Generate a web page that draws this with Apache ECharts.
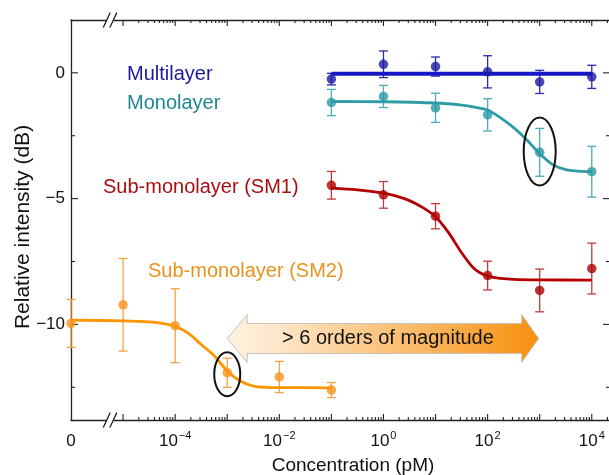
<!DOCTYPE html>
<html><head><meta charset="utf-8">
<script src="https://cdn.jsdelivr.net/npm/echarts@6/dist/echarts.min.js"></script>
<style>html,body{margin:0;padding:0;background:#fff}#c{width:609px;height:475px}</style>
</head><body><div id="c"></div>
<script>
// ---- data (x = log10 of concentration in pM; the "0" concentration is drawn at -6) ----
const xTickLabelValues = [-6, -4, -2, 0, 2, 4];
const xTickLabelTexts = ['0', '10^-4', '10^-2', '10^0', '10^2', '10^4'];
const yTickLabelValues = [0, -5, -10];
const yTickLabelTexts = ['0', '\u22125', '\u221210'];

const sm2X = [-6, -5, -4, -3, -2, -1];
const sm2Mean = [-9.96, -9.22, -10.05, -11.92, -12.09, -12.61];
const sm2Err = [0.95, 1.84, 1.47, 0.58, 0.62, 0.30];

const upperX = [-1, 0, 1, 2, 3, 4];
const multiMean = [-0.25, 0.34, 0.25, 0.04, -0.36, -0.16];
const multiErr = [0.23, 0.53, 0.38, 0.64, 0.46, 0.46];
const monoMean = [-1.18, -0.94, -1.39, -1.67, -3.16, -3.93];
const monoErr = [0.52, 0.44, 0.58, 0.64, 0.95, 1.01];
const sm1Mean = [-4.47, -4.85, -5.70, -8.06, -8.65, -7.78];
const sm1Err = [0.55, 0.53, 0.50, 0.57, 0.85, 1.01];

// fitted curves
const multiFitX = [-1, 4];
const multiFitY = [-0.04, -0.04];
const monoFitX = [-1, 0, 1, 1.5, 1.75, 2, 2.25, 2.5, 2.75, 3, 3.25, 3.5, 3.75, 4];
const monoFitY = [-1.14, -1.15, -1.2, -1.28, -1.36, -1.48, -1.79, -2.18, -2.66, -3.22, -3.65, -3.85, -3.91, -3.93];
const sm1FitX = [-1, -0.5, 0, 0.25, 0.5, 0.75, 1, 1.25, 1.5, 1.75, 2, 2.25, 2.5, 3, 4];
const sm1FitY = [-4.58, -4.65, -4.78, -4.9, -5.08, -5.35, -5.72, -6.35, -7.15, -7.8, -8.08, -8.17, -8.21, -8.23, -8.24];
const sm2FitX = [-6, -5, -4.5, -4.25, -4, -3.75, -3.5, -3.25, -3, -2.75, -2.5, -2.25, -2, -1];
const sm2FitY = [-9.83, -9.86, -9.9, -9.96, -10.08, -10.35, -10.8, -11.25, -11.85, -12.25, -12.45, -12.5, -12.51, -12.52];

const seriesNames = ['Multilayer', 'Monolayer', 'Sub-monolayer (SM1)', 'Sub-monolayer (SM2)'];
const xAxisTitle = 'Concentration (pM)';
const yAxisTitle = 'Relative intensity (dB)';
const arrowText = '> 6 orders of magnitude';

// ---- config ----
const X_MIN = -6, X_MAX = 4.35, Y_MIN = -13.8, Y_MAX = 2.1;
const colors = {
  multi: {pt: '#1a1aa6', line: '#1717c8', err: '#2b2bb0', text: '#1a1a9e'},
  mono: {pt: '#2a9aa5', line: '#2f9ba7', err: '#4aabb5', text: '#1f8790'},
  sm1: {pt: '#b00000', line: '#b30000', err: '#c23a3a', text: '#a80f0f'},
  sm2: {pt: '#f7941d', line: '#ff9500', err: '#f3a446', text: '#e8921e'}
};
// tick positions (axis decorations)
const tickItems = [];
for (let n = -5; n <= 4; n++) {
  tickItems.push([n, 0, 0]);
  for (let k = 2; k <= 9; k++) {
    const v = n + Math.log10(k);
    if (v <= X_MAX) tickItems.push([v, 0, 1]);
  }
}
[0, -5, -10].forEach(v => tickItems.push([0, v, 2]));
[-2.5, -7.5, -12.5].forEach(v => tickItems.push([0, v, 3]));

const zip = (a, b) => a.map((v, i) => [v, b[i]]);
const zip3 = (a, b, c) => a.map((v, i) => [v, b[i], c[i]]);

function errSeries(x, m, e, color) {
  return {
    type: 'custom', xAxisIndex: 0, yAxisIndex: 0, z: 3, clip: false,
    data: zip3(x, m, e),
    renderItem: function (params, api) {
      const xv = api.value(0), yv = api.value(1), ev = api.value(2);
      const t = api.coord([xv, yv + ev]), b = api.coord([xv, yv - ev]);
      const w = 4.5, st = {stroke: color, lineWidth: 1.3};
      return {type: 'group', children: [
        {type: 'line', shape: {x1: t[0], y1: t[1], x2: b[0], y2: b[1]}, style: st},
        {type: 'line', shape: {x1: t[0] - w, y1: t[1], x2: t[0] + w, y2: t[1]}, style: st},
        {type: 'line', shape: {x1: b[0] - w, y1: b[1], x2: b[0] + w, y2: b[1]}, style: st}
      ]};
    }
  };
}
function ptSeries(x, m, color) {
  return {type: 'scatter', xAxisIndex: 0, yAxisIndex: 0, z: 5, symbol: 'circle', symbolSize: 9.5,
    itemStyle: {color: color}, data: zip(x, m)};
}
function fitSeries(x, y, color, w) {
  return {type: 'line', xAxisIndex: 0, yAxisIndex: 0, z: 4, showSymbol: false, smooth: 0.3,
    lineStyle: {color: color, width: w}, data: zip(x, y)};
}

const axisColor = '#222';
const fontFam = '"Liberation Sans", Arial, sans-serif';
function xAx(pos, labels) {
  return {
    type: 'value', position: pos, min: X_MIN, max: X_MAX,
    axisLine: {show: true, onZero: false, lineStyle: {color: axisColor, width: 1.3}},
    axisTick: {show: false}, splitLine: {show: false},
    axisLabel: labels ? {
      show: true, customValues: xTickLabelValues, margin: 10, fontFamily: fontFam, fontSize: 17, color: '#111',
      formatter: function (v) {
        const i = xTickLabelValues.findIndex(t => Math.abs(t - v) < 1e-6);
        const s = i >= 0 ? xTickLabelTexts[i] : '';
        if (s.indexOf('^') < 0) return '{b|' + s + '}';
        const p = s.split('^');
        return '{b|' + p[0] + '}{s|' + p[1].replace('-', '\u2212') + '}';
      },
      rich: {b: {fontSize: 17, fontFamily: fontFam, color: '#111', verticalAlign: 'bottom', lineHeight: 20},
             s: {fontSize: 11, fontFamily: fontFam, color: '#111', verticalAlign: 'top', lineHeight: 20, padding: [0, 0, 0, 1]}}
    } : {show: false}
  };
}
function yAx(pos, labels) {
  return {
    type: 'value', position: pos, min: Y_MIN, max: Y_MAX,
    axisLine: {show: true, onZero: false, lineStyle: {color: axisColor, width: 1.3}},
    axisTick: {show: false}, splitLine: {show: false},
    axisLabel: labels ? {
      show: true, customValues: yTickLabelValues, margin: 6, fontFamily: fontFam, fontSize: 17, color: '#111',
      formatter: function (v) {
        const i = yTickLabelValues.findIndex(t => Math.abs(t - v) < 1e-6);
        return i >= 0 ? yTickLabelTexts[i] : '';
      }
    } : {show: false}
  };
}

// inward ticks on all four sides
const tickSeries = {
  type: 'custom', xAxisIndex: 0, yAxisIndex: 0, z: 1, clip: false, silent: true,
  data: tickItems,
  renderItem: function (params, api) {
    const v = api.value(0), w = api.value(1), kind = api.value(2);
    const st = {stroke: axisColor, lineWidth: 1.1};
    if (kind <= 1) {
      const L = kind === 0 ? 6 : 3;
      const b = api.coord([v, Y_MIN]), t = api.coord([v, Y_MAX]);
      return {type: 'group', children: [
        {type: 'line', shape: {x1: b[0], y1: b[1], x2: b[0], y2: b[1] - L}, style: st},
        {type: 'line', shape: {x1: t[0], y1: t[1], x2: t[0], y2: t[1] + L}, style: st}]};
    }
    const L = kind === 2 ? 7 : 4;
    const l = api.coord([X_MIN, w]), r = api.coord([X_MAX, w]);
    return {type: 'group', children: [
      {type: 'line', shape: {x1: l[0], y1: l[1], x2: l[0] + L, y2: l[1]}, style: st},
      {type: 'line', shape: {x1: r[0], y1: r[1], x2: r[0] - L, y2: r[1]}, style: st}]};
  }
};
// break marks on x axes
const breakSeries = {
  type: 'custom', xAxisIndex: 0, yAxisIndex: 0, z: 10, clip: false, silent: true,
  data: [[-5.25, Y_MIN], [-5.25, Y_MAX]],
  renderItem: function (params, api) {
    const c = api.coord([api.value(0), api.value(1)]);
    const d = 3.3, st = {stroke: '#111', lineWidth: 1.2};
    return {type: 'group', children: [
      {type: 'rect', shape: {x: c[0] - d, y: c[1] - 2.5, width: 2 * d, height: 5}, style: {fill: '#fff'}},
      {type: 'line', shape: {x1: c[0] - d - 3.5, y1: c[1] + 7.5, x2: c[0] - d + 3.5, y2: c[1] - 7.5}, style: st},
      {type: 'line', shape: {x1: c[0] + d - 3.5, y1: c[1] + 7.5, x2: c[0] + d + 3.5, y2: c[1] - 7.5}, style: st}
    ]};
  }
};
// ellipses
const ellipseSeries = {
  type: 'custom', xAxisIndex: 0, yAxisIndex: 0, z: 6, clip: false, silent: true,
  data: [[-3, -11.98, 13, 22], [3, -3.13, 16, 34]],
  renderItem: function (params, api) {
    const c = api.coord([api.value(0), api.value(1)]);
    return {type: 'ellipse', shape: {cx: c[0], cy: c[1], rx: api.value(2), ry: api.value(3)},
      style: {fill: 'none', stroke: '#111', lineWidth: 2}};
  }
};
// double arrow
const arrowSeries = {
  type: 'custom', xAxisIndex: 0, yAxisIndex: 0, z: 7, clip: false, silent: true,
  data: [[-3.0, 2.98, -10.56]],
  renderItem: function (params, api) {
    const a = api.coord([api.value(0), api.value(2)]);
    const b = api.coord([api.value(1), api.value(2)]);
    const y = a[1], hl = 20, hh = 24, sh = 15;
    const pts = [[a[0], y], [a[0] + hl, y - hh], [a[0] + hl, y - sh], [b[0] - hl + 3, y - sh], [b[0] - hl + 3, y - hh],
      [b[0], y], [b[0] - hl + 3, y + hh], [b[0] - hl + 3, y + sh], [a[0] + hl, y + sh], [a[0] + hl, y + hh]];
    return {type: 'group', children: [
      {type: 'polygon', shape: {points: pts}, style: {
        fill: new echarts.graphic.LinearGradient(0, 0, 1, 0, [
          {offset: 0, color: '#fff2e2'}, {offset: 0.15, color: '#fde7cc'}, {offset: 0.55, color: '#fbbf72'}, {offset: 1, color: '#f7900f'}]),
        stroke: '#c9c2bb', lineWidth: 1}},
      {type: 'text', style: {text: arrowText, x: (a[0] + b[0]) / 2 + 5, y: y, align: 'center', verticalAlign: 'middle',
        font: '20px ' + fontFam, fill: '#111'}}
    ]};
  }
};

const chart = echarts.init(document.getElementById('c'), null, {renderer: 'canvas'});
chart.setOption({
  backgroundColor: '#fff',
  animation: false,
  grid: {left: 71, right: -1, top: 20, bottom: 55, containLabel: false, outerBoundsMode: 'none'},
  xAxis: [xAx('bottom', true), xAx('top', false)],
  yAxis: [yAx('left', true), yAx('right', false)],
  graphic: [
    {type: 'text', left: 127, top: 64, style: {text: seriesNames[0], font: '20px ' + fontFam, fill: colors.multi.text}},
    {type: 'text', left: 127, top: 93, style: {text: seriesNames[1], font: '20px ' + fontFam, fill: colors.mono.text}},
    {type: 'text', left: 103, top: 177, style: {text: seriesNames[2], font: '20px ' + fontFam, fill: colors.sm1.text}},
    {type: 'text', left: 148, top: 261, style: {text: seriesNames[3], font: '20px ' + fontFam, fill: colors.sm2.text}},
    {type: 'text', x: 353, y: 466, style: {text: xAxisTitle, font: '19px ' + fontFam, fill: '#111', align: 'center', verticalAlign: 'middle'}},
    {type: 'text', x: 23, y: 227, rotation: Math.PI / 2, style: {text: yAxisTitle, font: '21px ' + fontFam, fill: '#111', align: 'center', verticalAlign: 'middle'}}
  ],
  series: [
    tickSeries,
    arrowSeries,
    errSeries(upperX, multiMean, multiErr, colors.multi.err),
    errSeries(upperX, monoMean, monoErr, colors.mono.err),
    errSeries(upperX, sm1Mean, sm1Err, colors.sm1.err),
    errSeries(sm2X, sm2Mean, sm2Err, colors.sm2.err),
    fitSeries(multiFitX, multiFitY, colors.multi.line, 4),
    fitSeries(monoFitX, monoFitY, colors.mono.line, 2.8),
    fitSeries(sm1FitX, sm1FitY, colors.sm1.line, 2.8),
    fitSeries(sm2FitX, sm2FitY, colors.sm2.line, 2.8),
    ptSeries(upperX, multiMean, colors.multi.pt),
    ptSeries(upperX, monoMean, colors.mono.pt),
    ptSeries(upperX, sm1Mean, colors.sm1.pt),
    ptSeries(sm2X, sm2Mean, colors.sm2.pt),
    ellipseSeries,
    breakSeries
  ]
});
</script></body></html>
